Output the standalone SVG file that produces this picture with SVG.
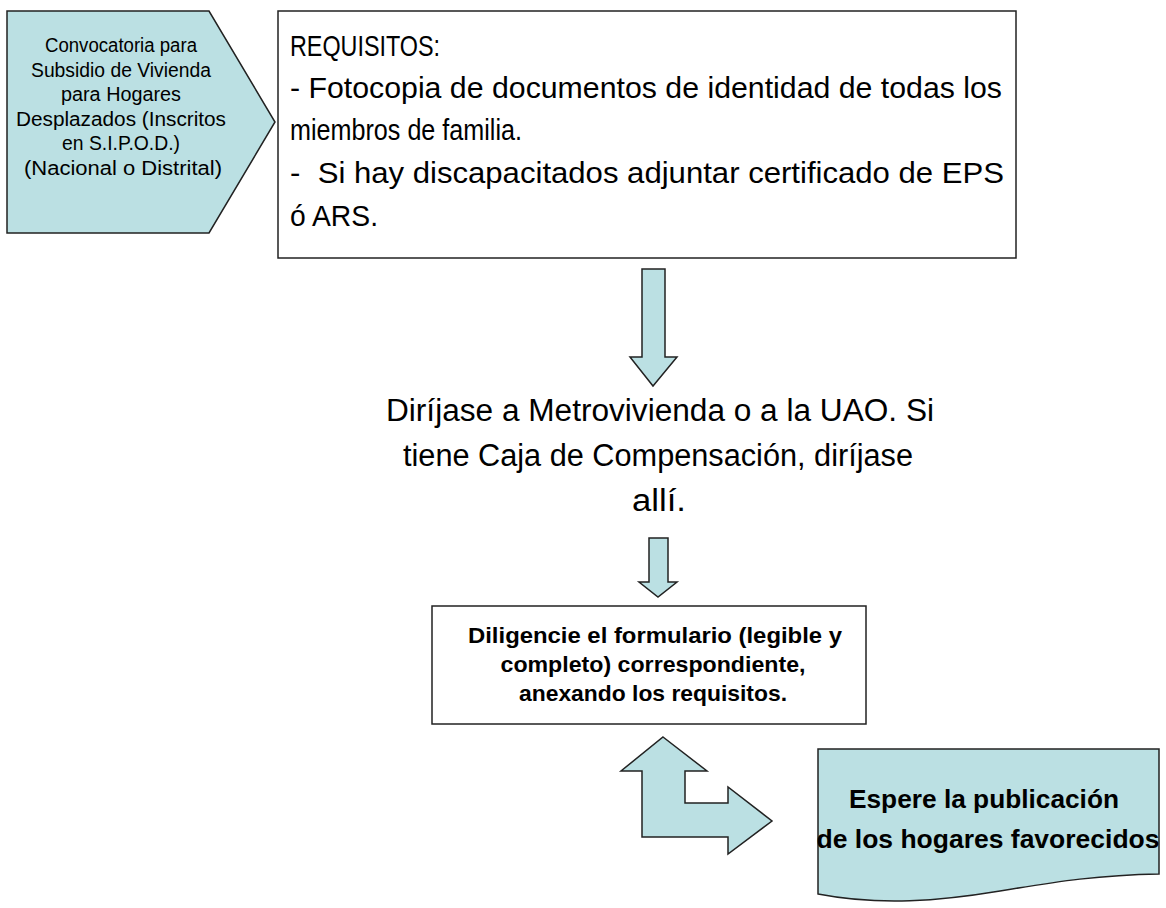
<svg xmlns="http://www.w3.org/2000/svg" width="1166" height="908" viewBox="0 0 1166 908">
<style>
.shape{fill:#bbe0e3;stroke:#222;stroke-width:1.5;stroke-linejoin:miter}
.box{fill:#fff;stroke:#222;stroke-width:1.5}
.t{font-family:"Liberation Sans",Arial,sans-serif;fill:#000}
.c{text-anchor:middle}
.b{font-weight:bold}
</style>
<rect width="1166" height="908" fill="#fff"/>
<g id="convocatoria">
<polygon class="shape" points="7,11 209,11 275,122 209,233 7,233"/>
<text class="t c" font-size="19.5" x="121" y="52" textLength="152" lengthAdjust="spacingAndGlyphs">Convocatoria para</text>
<text class="t c" font-size="19.5" x="121" y="77" textLength="180" lengthAdjust="spacingAndGlyphs">Subsidio de Vivienda</text>
<text class="t c" font-size="19.5" x="121" y="101" textLength="120" lengthAdjust="spacingAndGlyphs">para Hogares</text>
<text class="t c" font-size="19.5" x="121" y="126" textLength="210" lengthAdjust="spacingAndGlyphs">Desplazados (Inscritos</text>
<text class="t c" font-size="19.5" x="121" y="150" textLength="118" lengthAdjust="spacingAndGlyphs">en S.I.P.O.D.)</text>
<text class="t c" font-size="19.5" x="123" y="175" textLength="198" lengthAdjust="spacingAndGlyphs">(Nacional o Distrital)</text>
</g>
<g id="requisitos">
<rect class="box" x="278" y="11" width="738" height="247"/>
<text class="t" font-size="30" x="290" y="56" textLength="150" lengthAdjust="spacingAndGlyphs">REQUISITOS:</text>
<text class="t" font-size="30" x="290" y="98" textLength="712" lengthAdjust="spacingAndGlyphs">- Fotocopia de documentos de identidad de todas los</text>
<text class="t" font-size="30" x="290" y="140" textLength="232" lengthAdjust="spacingAndGlyphs">miembros de familia.</text>
<text class="t" font-size="30" x="290" y="183" textLength="714" lengthAdjust="spacingAndGlyphs">- &#160;Si hay discapacitados adjuntar certificado de EPS</text>
<text class="t" font-size="30" x="290" y="226" textLength="88" lengthAdjust="spacingAndGlyphs">ó ARS.</text>
</g>
<g id="dirijase">
<text class="t c" font-size="31" x="660" y="421" textLength="548" lengthAdjust="spacingAndGlyphs">Diríjase a Metrovivienda o a la UAO. Si</text>
<text class="t c" font-size="31" x="658" y="466" textLength="510" lengthAdjust="spacingAndGlyphs">tiene Caja de Compensación, diríjase</text>
<text class="t c" font-size="31" x="659" y="511" textLength="54" lengthAdjust="spacingAndGlyphs">allí.</text>
</g>
<g id="formulario">
<rect class="box" x="432" y="606" width="434" height="118"/>
<text class="t c b" font-size="21.5" x="655" y="643" textLength="374" lengthAdjust="spacingAndGlyphs">Diligencie el formulario (legible y</text>
<text class="t c b" font-size="21.5" x="653" y="672" textLength="305" lengthAdjust="spacingAndGlyphs">completo) correspondiente,</text>
<text class="t c b" font-size="21.5" x="653" y="701" textLength="268" lengthAdjust="spacingAndGlyphs">anexando los requisitos.</text>
</g>
<g id="espere">
<path class="shape" d="M818,749 H1159 V874 C1100,875 1060,881 1000,891 C940,901 880,906 818,894 Z"/>
<text class="t c b" font-size="26" x="984" y="808" textLength="270" lengthAdjust="spacingAndGlyphs">Espere la publicación</text>
<text class="t c b" font-size="26" x="988" y="848" textLength="343" lengthAdjust="spacingAndGlyphs">de los hogares favorecidos</text>
</g>
<g id="connectors">
<polygon class="shape" points="642,269 665,269 665,357 677,357 653,386 630,357 642,357"/>
<polygon class="shape" points="649,538 668,538 668,582 677,582 658,597 639,582 649,582"/>
<polygon class="shape" points="663,737 707,771 685,771 685,803 728,803 728,787 772,821 728,854 728,837 642,837 642,771 621,771"/>
</g>
</svg>
